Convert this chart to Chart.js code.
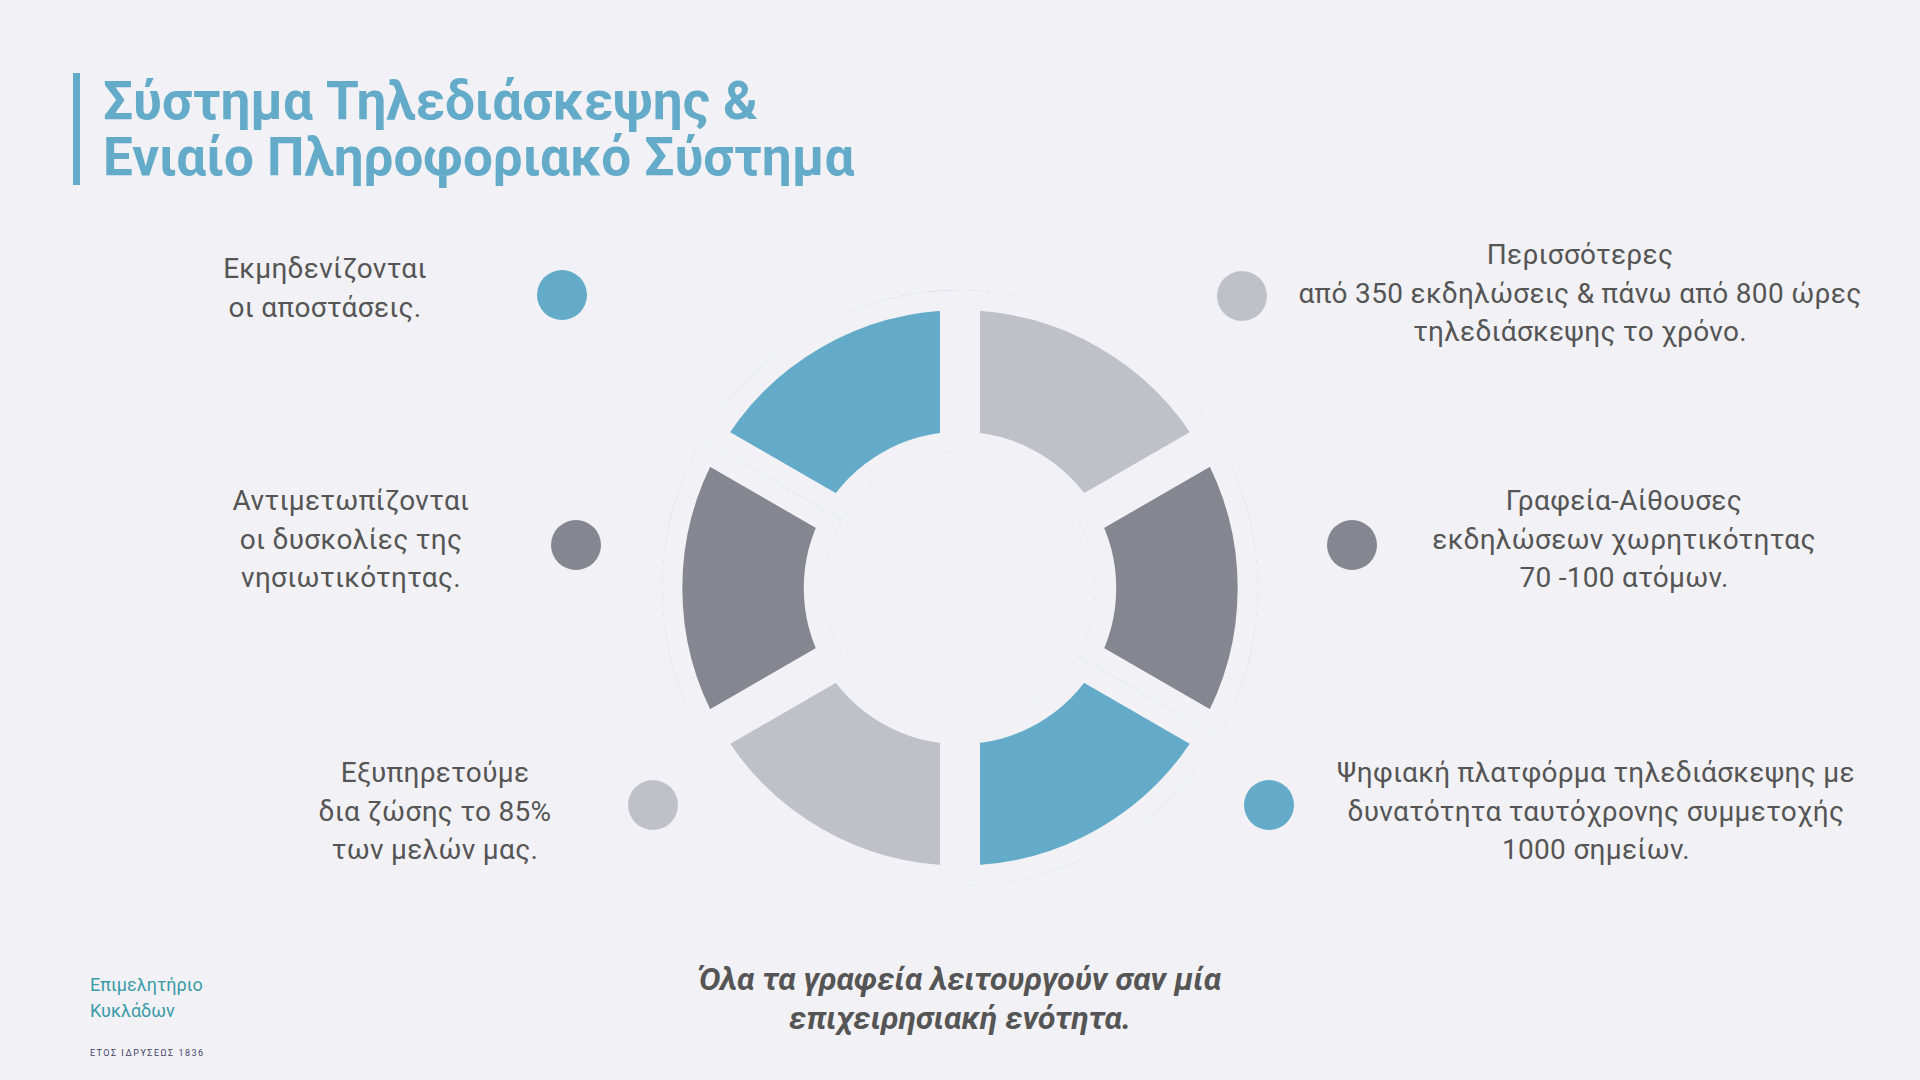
<!DOCTYPE html>
<html><head><meta charset="utf-8">
<script src="https://cdn.jsdelivr.net/npm/chart.js@4"></script>
<style>
body{margin:0;width:1920px;height:1080px;background:#f2f2f6;font-family:Roboto,sans-serif;position:relative;overflow:hidden}
.title{position:absolute;left:73px;top:73px;border-left:7px solid #63abc9;padding-left:23px;color:#63abc9;font-weight:bold;font-size:53px;line-height:56px}
.lbl{position:absolute;transform:translate(-50%,0);text-align:center;color:#555;font-size:28px;line-height:38.5px;white-space:nowrap;letter-spacing:0.3px}
.dot{position:absolute;width:50px;height:50px;border-radius:50%;transform:translate(-50%,-50%)}
#wrap{position:absolute;left:662px;top:290px;width:596px;height:596px}
.foot{position:absolute;left:960px;top:960px;transform:translateX(-50%);text-align:center;color:#555;font-size:32px;font-weight:bold;font-style:italic;line-height:39px;white-space:nowrap}
.logo{position:absolute;left:90px;top:972px;color:#3a9aa8;font-size:18px;line-height:26px}
.logo small{display:block;font-size:9px;letter-spacing:1.5px;color:#446;margin-top:16px}
</style></head><body>
<div class="title">Σύστημα Τηλεδιάσκεψης &amp;<br>Ενιαίο Πληροφοριακό Σύστημα</div>
<div id="wrap"><canvas id="c"></canvas></div>
<div class="lbl" style="left:325px;top:250px">Εκμηδενίζονται<br>οι αποστάσεις.</div>
<div class="lbl" style="left:351px;top:482px">Αντιμετωπίζονται<br>οι δυσκολίες της<br>νησιωτικότητας.</div>
<div class="lbl" style="left:435px;top:754px">Εξυπηρετούμε<br>δια ζώσης το 85%<br>των μελών μας.</div>
<div class="lbl" style="left:1580px;top:236px">Περισσότερες<br>από 350 εκδηλώσεις &amp; πάνω από 800 ώρες<br>τηλεδιάσκεψης το χρόνο.</div>
<div class="lbl" style="left:1624px;top:482px">Γραφεία-Αίθουσες<br>εκδηλώσεων χωρητικότητας<br>70 -100 ατόμων.</div>
<div class="lbl" style="left:1596px;top:754px">Ψηφιακή πλατφόρμα τηλεδιάσκεψης με<br>δυνατότητα ταυτόχρονης συμμετοχής<br>1000 σημείων.</div>
<div class="dot" style="left:562px;top:295px;background:#63abc9"></div>
<div class="dot" style="left:576px;top:545px;background:#868691"></div>
<div class="dot" style="left:653px;top:805px;background:#c0c0c8"></div>
<div class="dot" style="left:1242px;top:296px;background:#c0c0c8"></div>
<div class="dot" style="left:1352px;top:545px;background:#868691"></div>
<div class="dot" style="left:1269px;top:805px;background:#63abc9"></div>
<div class="foot">Όλα τα γραφεία λειτουργούν σαν μία<br>επιχειρησιακή ενότητα.</div>
<div class="logo">Επιμελητήριο<br>Κυκλάδων<small>ΕΤΟΣ ΙΔΡΥΣΕΩΣ 1836</small></div>
<script>
const categories=["Τηλεδιάσκεψη","Γραφεία-Αίθουσες","Ψηφιακή πλατφόρμα","Εξυπηρέτηση","Νησιωτικότητα","Αποστάσεις"];
const values=[1,1,1,1,1,1];
const colors=["#c0c0c8","#868691","#63abc9","#c0c0c8","#868691","#63abc9"];
new Chart(document.getElementById('c'),{type:'doughnut',
data:{labels:categories,datasets:[{data:values,backgroundColor:colors,borderColor:'#f2f2f6',borderWidth:20,borderAlign:'inner',borderJoinStyle:'miter',spacing:0}]},
options:{responsive:true,maintainAspectRatio:false,animation:false,cutout:'45.6%',
layout:{padding:0},plugins:{legend:{display:false},tooltip:{enabled:false}}}});
</script>
</body></html>
